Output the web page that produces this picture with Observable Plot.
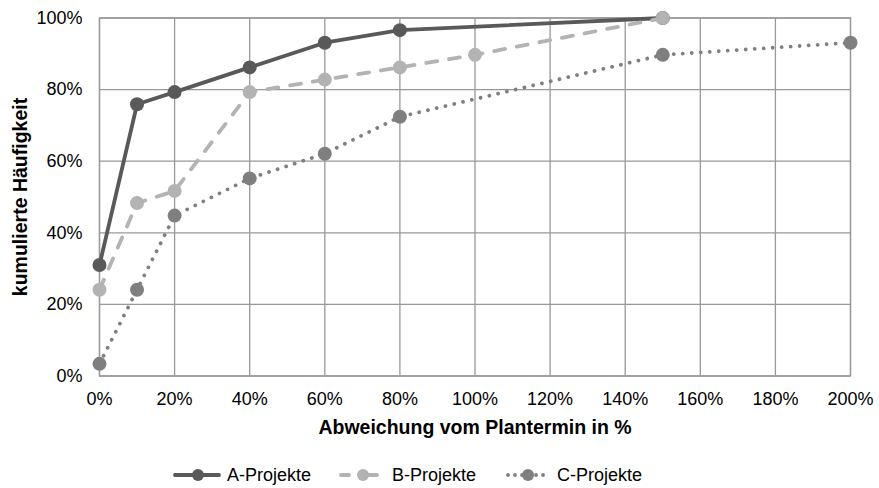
<!DOCTYPE html>
<html>
<head>
<meta charset="utf-8">
<script src="https://cdn.jsdelivr.net/npm/d3@7"></script>
<script src="https://cdn.jsdelivr.net/npm/@observablehq/plot@0.6"></script>
<style>
  html, body { margin: 0; padding: 0; background: #fff; }
  body { width: 879px; height: 488px; overflow: hidden; font-family: Arial, "Liberation Sans", sans-serif; }
  #legend { display: flex; align-items: center; padding-left: 173px; padding-top: 25px; height: 20px; font-size: 18px; color: #000; }
  #legend .item { display: flex; align-items: center; margin-right: 27px; }
  #legend svg { display: block; margin-right: 6px; }
</style>
</head>
<body>
<div id="chart"></div>
<div id="legend"></div>
<script>
// Data
const seriesNames = ["A-Projekte", "B-Projekte", "C-Projekte"];
const aX = [0, 10, 20, 40, 60, 80, 150];
const aY = [31.0, 75.9, 79.3, 86.2, 93.1, 96.6, 100];
const bX = [0, 10, 20, 40, 60, 80, 100, 150];
const bY = [24.1, 48.3, 51.7, 79.3, 82.8, 86.2, 89.7, 100];
const cX = [0, 10, 20, 40, 60, 80, 150, 200];
const cY = [3.4, 24.1, 44.8, 55.2, 62.1, 72.4, 89.7, 93.1];
const xTicks = [0, 20, 40, 60, 80, 100, 120, 140, 160, 180, 200];
const yTicks = [0, 20, 40, 60, 80, 100];
const xLabel = "Abweichung vom Plantermin in %";
const yLabel = "kumulierte Häufigkeit";

const colors = ["#595959", "#b3b3b3", "#7f7f7f"];
const dashes = [null, "11 12", "0.01 9"];

const toRows = (xs, ys) => xs.map((x, i) => ({x, y: ys[i]}));
const A = toRows(aX, aY), B = toRows(bX, bY), C = toRows(cX, cY);
const all = [A, B, C];

const marks = [
  Plot.gridX(xTicks, {stroke: "#999", strokeOpacity: 1, strokeWidth: 1.3}),
  Plot.gridY(yTicks, {stroke: "#999", strokeOpacity: 1, strokeWidth: 1.3}),
  Plot.frame({stroke: "#999", strokeWidth: 1.3}),
  Plot.axisX(xTicks, {tickSize: 0, tickPadding: 16, tickFormat: d => d + "%", fontSize: 18, label: null}),
  Plot.axisY(yTicks, {tickSize: 0, tickPadding: 17, tickFormat: d => d + "%", fontSize: 18, label: null}),
  Plot.text([xLabel], {frameAnchor: "bottom", textAnchor: "middle", dy: 52, lineAnchor: "middle", fontWeight: "bold", fontSize: 19.5, fill: "#000"}),
  Plot.text([yLabel], {frameAnchor: "left", textAnchor: "middle", dx: -79, rotate: -90, lineAnchor: "middle", fontWeight: "bold", fontSize: 19.5, fill: "#000"})
];
all.forEach((data, i) => {
  marks.push(Plot.line(data, {x: "x", y: "y", stroke: colors[i], strokeWidth: 3.8, strokeDasharray: dashes[i], strokeLinecap: "round", strokeLinejoin: "round"}));
  marks.push(Plot.dot(data, {x: "x", y: "y", r: 7, fill: colors[i], stroke: "none"}));
});

const chart = Plot.plot({
  width: 879,
  height: 440,
  marginLeft: 99,
  marginRight: 29,
  marginTop: 17.5,
  marginBottom: 64.5,
  style: {fontFamily: "Arial, 'Liberation Sans', sans-serif", color: "#000", background: "#fff", overflow: "visible"},
  x: {domain: [0, 200]},
  y: {domain: [0, 100]},
  marks
});
document.getElementById("chart").appendChild(chart);

// Legend
const legend = d3.select("#legend");
seriesNames.forEach((name, i) => {
  const item = legend.append("div").attr("class", "item");
  const svg = item.append("svg").attr("width", 48).attr("height", 16);
  svg.append("line").attr("x1", 2).attr("x2", 46).attr("y1", 8).attr("y2", 8)
    .attr("stroke", colors[i]).attr("stroke-width", 3.8).attr("stroke-linecap", "round")
    .attr("stroke-dasharray", i === 1 ? "8 20" : (i === 2 ? "0.01 7" : null))
    .attr("stroke-dashoffset", i === 1 ? -1 : (i === 2 ? -3 : null));
  svg.append("circle").attr("cx", 25).attr("cy", 8).attr("r", 6).attr("fill", colors[i]);
  item.append("span").text(name);
});
</script>
</body>
</html>
